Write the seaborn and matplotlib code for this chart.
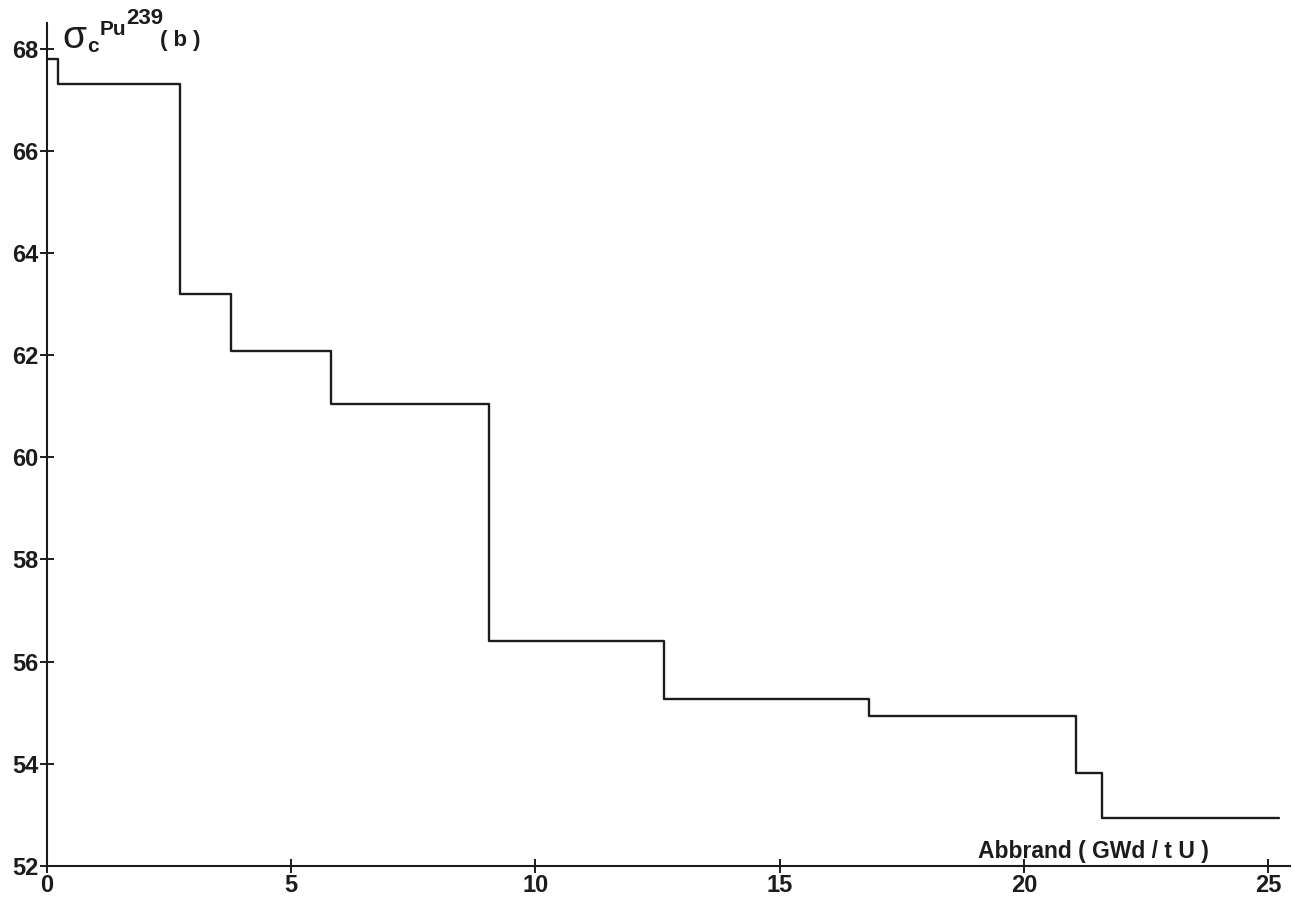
import matplotlib
matplotlib.use("Agg")
import matplotlib.pyplot as plt
import seaborn as sns
import pandas as pd

# Capture cross-section of Pu-239 per burnup interval (step edges and levels)
burnup_edges = [0.0, 0.23, 2.73, 3.77, 5.81, 9.04, 12.64, 16.84, 21.07, 21.61, 25.22]
sigma_c = [67.79, 67.30, 63.19, 62.08, 61.04, 56.40, 55.27, 54.94, 53.82, 52.94, 52.94]

x_ticks = [0, 5, 10, 15, 20, 25]
y_ticks = [52, 54, 56, 58, 60, 62, 64, 66, 68]

sns.set_theme(style="white")
plt.rcParams["font.family"] = ["Liberation Sans", "DejaVu Sans"]

ink = "#1c1c1c"
W, H = 1293, 901
df = pd.DataFrame({"burnup": burnup_edges, "sigma": sigma_c})

fig = plt.figure(figsize=(W / 100, H / 100), dpi=100)
ax = fig.add_axes([47 / W, 35 / H, (1290 - 47) / W, (866 - 23) / H])

sns.lineplot(data=df, x="burnup", y="sigma", estimator=None, sort=False,
             drawstyle="steps-post", color=ink, linewidth=1.7, ax=ax)

ax.set_xlim(0, 25.45)
ax.set_ylim(52, 68.5)
ax.set_xticks(x_ticks)
ax.set_yticks(y_ticks)
ax.set_xticklabels([str(v) for v in x_ticks])
ax.set_yticklabels([str(v) for v in y_ticks])
ax.set_xlabel("")
ax.set_ylabel("")

for side in ("top", "right"):
    ax.spines[side].set_visible(False)
for side in ("left", "bottom"):
    ax.spines[side].set_color(ink)
    ax.spines[side].set_linewidth(1.5)

ax.tick_params(axis="both", which="major", bottom=True, left=True,
               direction="inout", length=10, width=1.4, colors=ink,
               labelsize=17, pad=1)
for lbl in ax.get_xticklabels() + ax.get_yticklabels():
    lbl.set_fontweight("bold")


def ftext(px, py, s, **kw):
    fig.text(px / W, 1 - py / H, s, ha="left", va="baseline", color=ink, **kw)


# axis titles
ftext(978, 866 - 8, "Abbrand ( GWd / t U )", fontsize=16.5, fontweight="bold")
ftext(62, 48, "σ", fontsize=28)
ftext(87, 52, "c", fontsize=15, fontweight="bold")
ftext(100, 35, "Pu", fontsize=15, fontweight="bold")
ftext(126, 24, "239", fontsize=16, fontweight="bold")
ftext(160, 46, "( b )", fontsize=16, fontweight="bold")

fig.savefig("out.png", dpi=100, facecolor="white")
